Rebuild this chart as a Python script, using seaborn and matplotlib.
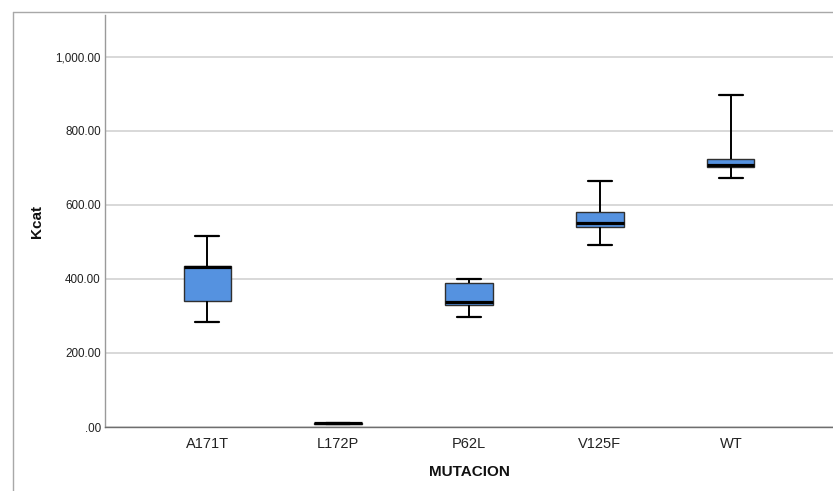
import numpy as np
import pandas as pd
import matplotlib
matplotlib.use("Agg")
import matplotlib.pyplot as plt
from matplotlib.lines import Line2D
from matplotlib.ticker import FuncFormatter
import seaborn as sns

# Data (min, Q1, median, Q3, max per group)
categories = ["A171T", "L172P", "P62L", "V125F", "WT"]
kcat_A171T = [283, 340, 432, 435, 517]
kcat_L172P = [8, 9, 10, 11, 12]
kcat_P62L = [298, 330, 339, 390, 400]
kcat_V125F = [491, 541, 550, 582, 665]
kcat_WT = [672, 702, 708, 723, 897]
yticks = [0, 200, 400, 600, 800, 1000]

groups = [kcat_A171T, kcat_L172P, kcat_P62L, kcat_V125F, kcat_WT]
df = pd.DataFrame({
    "MUTACION": np.repeat(categories, [len(g) for g in groups]),
    "Kcat": np.concatenate(groups),
})

sns.set_style("white")
plt.rcParams["font.family"] = ["Liberation Sans", "DejaVu Sans"]

W, H = 833, 491
fig = plt.figure(figsize=(W / 100, H / 100), dpi=100)
ax = fig.add_axes([105 / W, 1 - 427 / H, (W - 105) / W, (427 - 15) / H])

sns.boxplot(
    data=df, x="MUTACION", y="Kcat", order=categories, ax=ax,
    color="#5592e0", saturation=1, width=0.36, whis=(0, 100),
    showfliers=False, linecolor="#303030", linewidth=1.0,
    medianprops=dict(color="black", linewidth=2.3),
    whiskerprops=dict(color="black", linewidth=1.4),
    capprops=dict(color="black", linewidth=1.6),
    zorder=3,
)

ax.set_xlim(-0.78, 4.78)
ax.set_ylim(0, 1113)
ax.set_yticks(yticks)

def fmt(v, pos):
    s = f"{v:,.2f}"
    if s.startswith("0."):
        s = s[1:]
    return s

ax.yaxis.set_major_formatter(FuncFormatter(fmt))
ax.yaxis.grid(True, color="#d2d2d2", linewidth=1.2, zorder=0)
ax.set_axisbelow(True)

for side in ["top", "right"]:
    ax.spines[side].set_visible(False)
ax.spines["left"].set_color("#9a9a9a")
ax.spines["left"].set_linewidth(1.0)
ax.spines["bottom"].set_color("#6e6e6e")
ax.spines["bottom"].set_linewidth(1.0)

ax.tick_params(axis="y", length=0, pad=3, labelsize=8.4, labelcolor="#222222")
ax.tick_params(axis="x", length=0, pad=7, labelsize=10.5, labelcolor="#222222")

ax.set_xlabel("MUTACION", fontsize=11, fontweight="bold", labelpad=10, color="#111111")
ax.set_ylabel("Kcat", fontsize=11, fontweight="bold", labelpad=8, color="#111111")

# outer frame (SPSS chart border)
fig.add_artist(Line2D([12.5 / W, 12.5 / W], [0, 1 - 11.5 / H],
                      transform=fig.transFigure, color="#a8a8a8", linewidth=1.0))
fig.add_artist(Line2D([12.5 / W, 1], [1 - 11.5 / H, 1 - 11.5 / H],
                      transform=fig.transFigure, color="#a8a8a8", linewidth=1.0))

fig.savefig("out.png", dpi=100)
